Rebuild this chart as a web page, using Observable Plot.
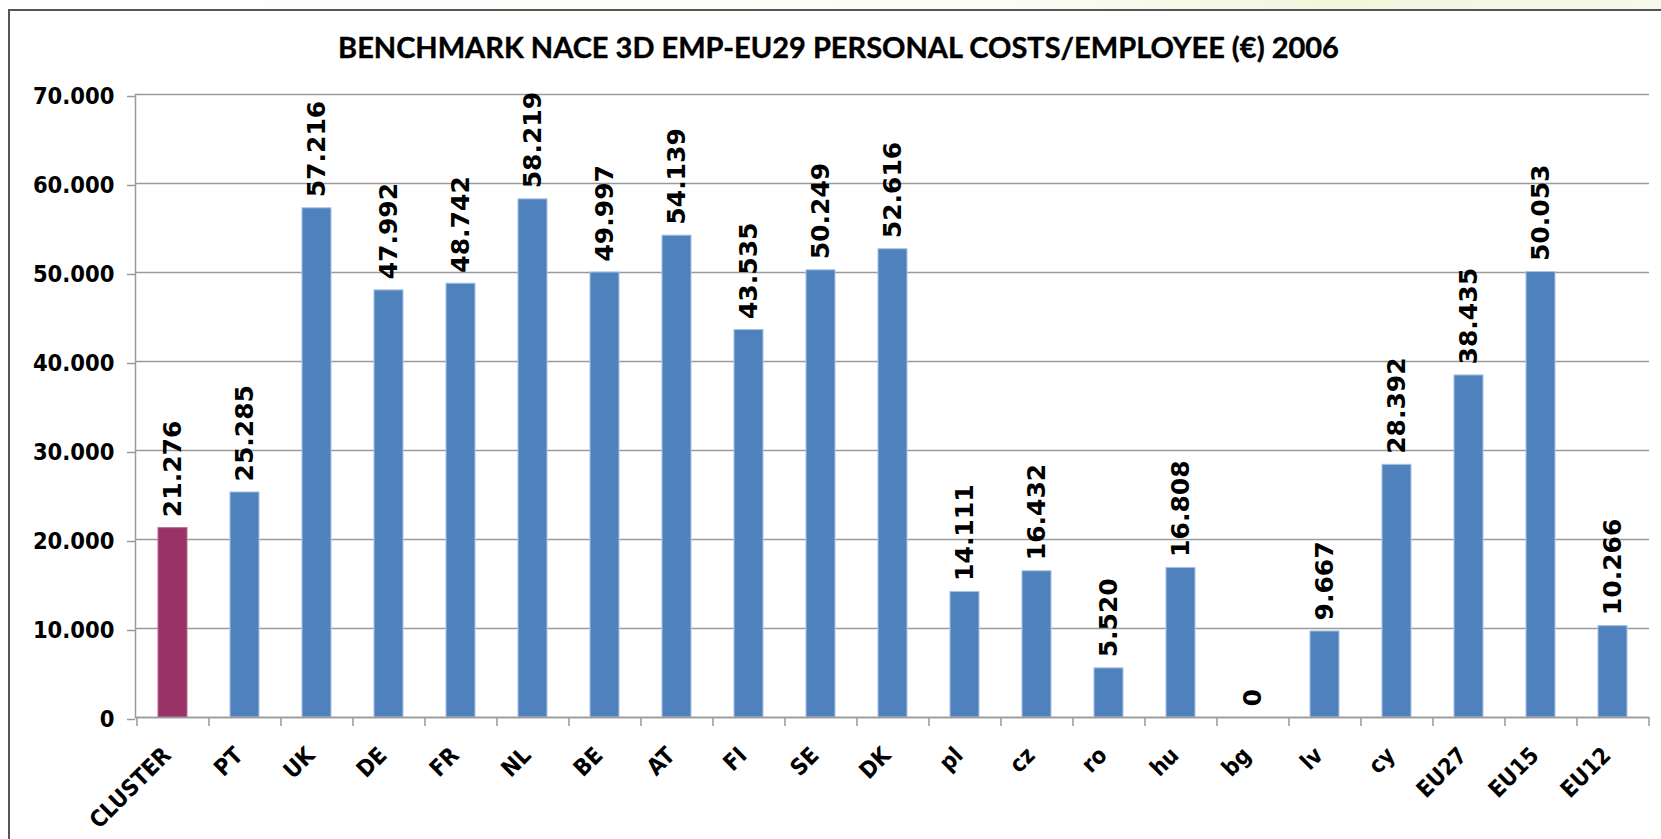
<!DOCTYPE html>
<html>
<head>
<meta charset="utf-8">
<script src="https://cdn.jsdelivr.net/npm/d3@7"></script>
<script src="https://cdn.jsdelivr.net/npm/@observablehq/plot@0.6"></script>
<style>
  html, body { margin: 0; padding: 0; background: #fff; }
  #wrap { position: relative; width: 1661px; height: 839px; overflow: hidden; background: #fff; }
  #topstrip { position: absolute; left: 0; top: 0; width: 1661px; height: 9px;
    background: linear-gradient(90deg, #ffffff 0%, #fbfdf6 60%, #f1f7de 80%, #f6f9ea 100%); }
  #frame { position: absolute; left: 8px; top: 9px; width: 1800px; height: 1000px;
    border-left: 2px solid #555; border-top: 2px solid #555; background: #fff; }
  #title { position: absolute; left: 8px; top: 32px; width: 1661px; text-align: center;
    font-family: Lato, "Open Sans", sans-serif; font-weight: 700; font-size: 29px; line-height: 29px; color: #000;
    -webkit-text-stroke: 0.4px #000; }
  #chart { position: absolute; left: 0; top: 0; }
</style>
</head>
<body>
<div id="wrap">
  <div id="topstrip"></div>
  <div id="frame"></div>
  <div id="title">BENCHMARK NACE 3D EMP-EU29 PERSONAL COSTS/EMPLOYEE (€) 2006</div>
  <div id="chart"></div>
</div>
<script>
const categories = ["CLUSTER","PT","UK","DE","FR","NL","BE","AT","FI","SE","DK","pl","cz","ro","hu","bg","lv","cy","EU27","EU15","EU12"];
const values = [21276,25285,57216,47992,48742,58219,49997,54139,43535,50249,52616,14111,16432,5520,16808,0,9667,28392,38435,50053,10266];
const yTicks = [0,10000,20000,30000,40000,50000,60000,70000];
const highlightCategory = "CLUSTER";

const locale = d3.formatLocale({decimal: ",", thousands: ".", grouping: [3], currency: ["", "€"]});
const fmt = locale.format(",d");

const data = categories.map((c, i) => ({cat: c, value: values[i]}));

const W = 1661, H = 839;
const mL = 135, mR = 12, mT = 94, mB = 122;
const step = (W - mL - mR) / categories.length;
const grey = "#9a9a9a";
const condFont = "DejaVu Sans Condensed, DejaVu Sans, sans-serif";
const wideFont = "DejaVu Sans, Verdana, sans-serif";

const chart = Plot.plot({
  width: W, height: H,
  marginLeft: mL, marginRight: mR, marginTop: mT, marginBottom: mB,
  style: {background: "transparent", overflow: "visible"},
  x: {type: "band", domain: categories, paddingInner: 0.6, paddingOuter: 0.3, axis: null},
  y: {domain: [0, 70000], axis: null},
  color: {type: "identity"},
  marks: [
    Plot.gridY(yTicks, {stroke: grey, strokeOpacity: 1, strokeWidth: 1.5}),
    Plot.axisY(yTicks, {
      tickSize: 8, tickPadding: 13, stroke: grey, strokeWidth: 1.5, strokeOpacity: 1,
      tickFormat: fmt, label: null, fill: "#000",
      fontSize: 23.5, fontWeight: "bold", fontFamily: condFont, dy: 2
    }),
    Plot.frame({anchor: "left", stroke: grey, strokeWidth: 1.5}),
    Plot.barY(data, {
      x: "cat", y: "value",
      fill: d => d.cat === highlightCategory ? "#993366" : "#4f81bd",
      stroke: d => d.cat === highlightCategory ? "#b86a8f" : "#a9c2e2",
      strokeWidth: 1
    }),
    Plot.ruleY([0], {stroke: grey, strokeWidth: 1.5}),
    Plot.ruleX(categories, {x: d => d, y1: 0, y2: -1000, dx: -step / 2, stroke: grey, strokeWidth: 1.5}),
    Plot.ruleX(categories.slice(-1), {x: d => d, y1: 0, y2: -1000, dx: step / 2, stroke: grey, strokeWidth: 1.5}),
    Plot.text(data, {
      x: "cat", y: "value", text: d => fmt(d.value),
      rotate: -90, textAnchor: "start", lineAnchor: "middle",
      dy: -11, fontSize: 25, fontWeight: "bold", fontFamily: wideFont, fill: "#000"
    }),
    Plot.text(categories, {
      x: d => d, y: 0, text: d => d,
      rotate: -45, textAnchor: "end", lineAnchor: "middle",
      dx: -6, dy: 34, fontSize: 23, fontWeight: "bold", fontFamily: condFont, fill: "#000"
    })
  ]
});
document.getElementById("chart").appendChild(chart);
</script>
</body>
</html>
